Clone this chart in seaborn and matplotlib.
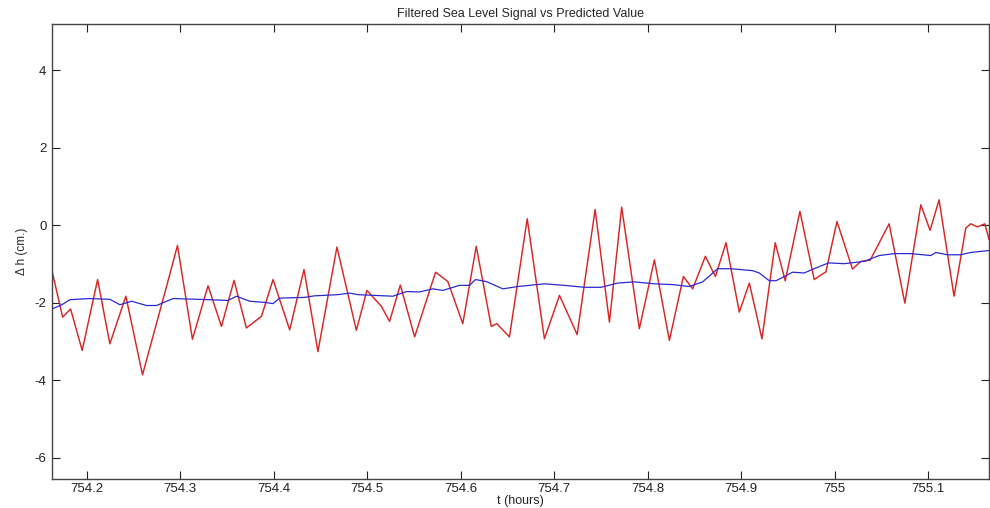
import pandas as pd
import matplotlib
matplotlib.use("Agg")
import matplotlib.pyplot as plt
import seaborn as sns

# Señal filtrada (rojo): tiempo en horas y nivel en cm
t_signal = [
    754.1629, 754.1744, 754.1829, 754.1953, 754.2118, 754.2249, 754.2420, 754.2598,
    754.2855, 754.2972, 754.3132, 754.3299, 754.3442, 754.3577, 754.3709, 754.3870,
    754.3994, 754.4172, 754.4325, 754.4474, 754.4677, 754.4885, 754.4998, 754.5152,
    754.5240, 754.5355, 754.5508, 754.5732, 754.5863, 754.6023, 754.6167, 754.6327,
    754.6387, 754.6522, 754.6712, 754.6896, 754.7057, 754.7246, 754.7438, 754.7591,
    754.7722, 754.7911, 754.8072, 754.8232, 754.8382, 754.8481, 754.8617, 754.8724,
    754.8838, 754.8980, 754.9087, 754.9222, 754.9364, 754.9471, 754.9628, 754.9781,
    754.9906, 755.0024, 755.0190, 755.0280, 755.0379, 755.0582, 755.0750, 755.0921,
    755.1020, 755.1116, 755.1276, 755.1402, 755.1455, 755.1526, 755.1605, 755.1651,
]
h_signal = [
    -1.16, -2.37, -2.16, -3.23, -1.40, -3.06, -1.83, -3.86,
    -1.58, -0.52, -2.94, -1.56, -2.61, -1.42, -2.65, -2.35,
    -1.40, -2.70, -1.14, -3.26, -0.56, -2.71, -1.68, -2.09,
    -2.48, -1.54, -2.88, -1.21, -1.45, -2.54, -0.54, -2.61,
    -2.54, -2.88, 0.17, -2.93, -1.81, -2.82, 0.41, -2.50,
    0.47, -2.67, -0.89, -2.97, -1.32, -1.64, -0.80, -1.32,
    -0.45, -2.24, -1.49, -2.93, -0.45, -1.43, 0.36, -1.40,
    -1.20, 0.10, -1.13, -0.93, -0.90, 0.04, -2.01, 0.53,
    -0.13, 0.66, -1.83, -0.07, 0.04, -0.04, 0.04, -0.37,
]

# Valor predicho (azul)
t_pred = [
    754.1629, 754.1736, 754.1822, 754.2035, 754.2249, 754.2356, 754.2481, 754.2641,
    754.2748, 754.2925, 754.3317, 754.3513, 754.3603, 754.3745, 754.3905, 754.3994,
    754.4065, 754.4332, 754.4439, 754.4688, 754.4813, 754.4902, 754.5276, 754.5419,
    754.5561, 754.5703, 754.5810, 754.5988, 754.6095, 754.6159, 754.6274, 754.6451,
    754.6611, 754.6896, 754.7110, 754.7324, 754.7502, 754.7679, 754.7858, 754.8072,
    754.8267, 754.8446, 754.8588, 754.8748, 754.8891, 754.9122, 754.9193, 754.9300,
    754.9372, 754.9479, 754.9549, 754.9674, 754.9799, 754.9934, 755.0101, 755.0315,
    755.0475, 755.0635, 755.0814, 755.1028, 755.1081, 755.1205, 755.1348, 755.1455,
    755.1651,
]
h_pred = [
    -2.16, -2.05, -1.92, -1.89, -1.91, -2.05, -1.96, -2.07,
    -2.07, -1.89, -1.92, -1.94, -1.83, -1.96, -1.99, -2.02,
    -1.88, -1.86, -1.82, -1.79, -1.75, -1.79, -1.83, -1.71,
    -1.72, -1.64, -1.68, -1.55, -1.55, -1.40, -1.45, -1.64,
    -1.58, -1.51, -1.55, -1.60, -1.60, -1.49, -1.46, -1.51,
    -1.53, -1.58, -1.46, -1.12, -1.12, -1.17, -1.23, -1.43,
    -1.43, -1.30, -1.21, -1.23, -1.10, -0.97, -0.99, -0.93,
    -0.78, -0.73, -0.73, -0.78, -0.70, -0.76, -0.76, -0.70,
    -0.65,
]

x_ticks = [754.2, 754.3, 754.4, 754.5, 754.6, 754.7, 754.8, 754.9, 755.0, 755.1]
x_tick_labels = ["754.2", "754.3", "754.4", "754.5", "754.6", "754.7", "754.8", "754.9", "755", "755.1"]
y_ticks = [-6, -4, -2, 0, 2, 4]

df_signal = pd.DataFrame({"t": t_signal, "h": h_signal})
df_pred = pd.DataFrame({"t": t_pred, "h": h_pred})

sns.set_style("ticks")
plt.rcParams["font.family"] = ["Liberation Sans", "DejaVu Sans"]
plt.rcParams["axes.unicode_minus"] = False

fig = plt.figure(figsize=(9.9, 5.08), dpi=100)
ax = fig.add_axes([0.0525, 0.0571, 0.9465, 0.8957])

sns.lineplot(data=df_signal, x="t", y="h", ax=ax, color="#d82626", linewidth=1.05,
             sort=False, estimator=None)
sns.lineplot(data=df_pred, x="t", y="h", ax=ax, color="#2a2ad2", linewidth=0.9,
             sort=False, estimator=None)

ax.set_xlim(754.163, 755.165)
ax.set_ylim(-6.55, 5.2)
ax.set_xticks(x_ticks)
ax.set_xticklabels(x_tick_labels)
ax.set_yticks(y_ticks)
ax.tick_params(direction="in", length=6, width=0.8, labelsize=9.5, colors="#222222",
               top=True, right=True, pad=4)
ax.tick_params(axis="x", pad=3)
for s in ax.spines.values():
    s.set_color("#444444")
    s.set_linewidth(1.0)

ax.set_title("Filtered Sea Level Signal vs Predicted Value", fontsize=9, pad=5)
ax.set_xlabel("t (hours)", fontsize=9)
ax.xaxis.set_label_coords(0.5, -0.036)
ax.set_ylabel("Δ h (cm.)", fontsize=8.5, labelpad=5)

fig.savefig("out.png", dpi=100)
